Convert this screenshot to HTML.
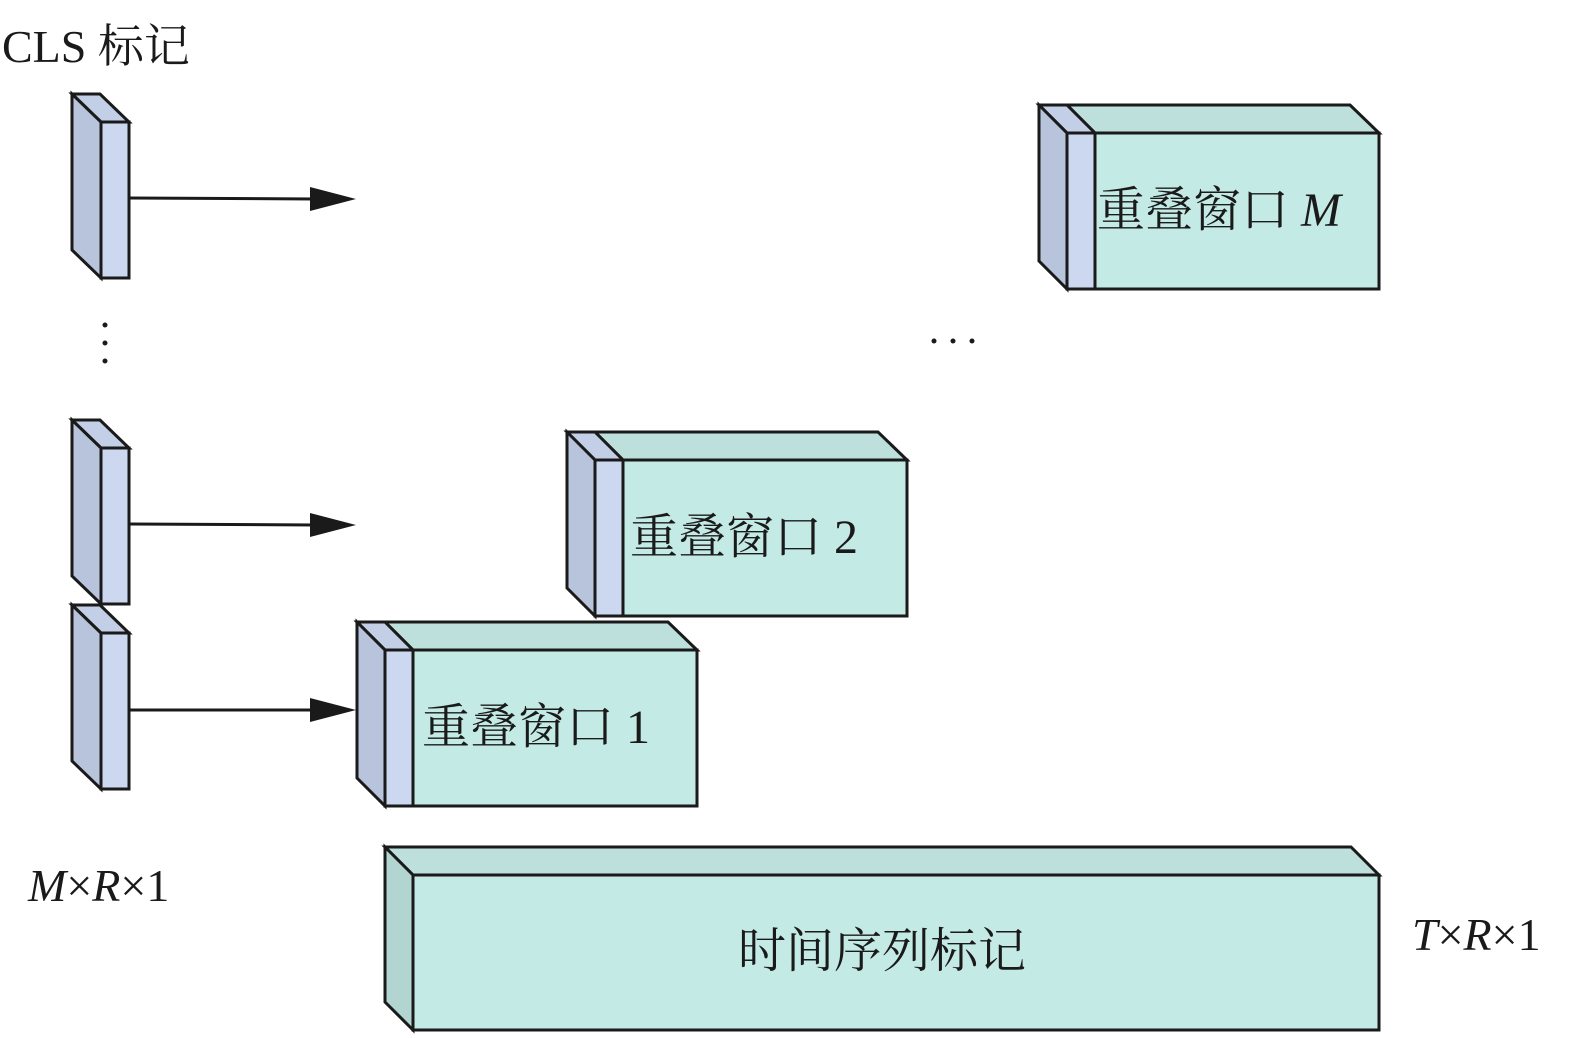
<!DOCTYPE html>
<html><head><meta charset="utf-8"><style>
body{margin:0;background:#fff}
svg{display:block}
text{font-family:"Liberation Serif","Noto Serif CJK SC",serif;fill:#1a1a1a}
</style></head><body>
<svg width="1575" height="1038" viewBox="0 0 1575 1038" xmlns="http://www.w3.org/2000/svg">
<defs>
<g id="tok" stroke="#1a1a1a" stroke-width="3" stroke-linejoin="miter">
<polygon points="0,0 28,0 57,28 29,28" fill="#c3cfe6"/>
<polygon points="0,0 29,28 29,184 0,156" fill="#b8c4dc"/>
<rect x="29" y="28" width="28" height="156" fill="#cbd8ef"/>
</g>
<g id="win" stroke="#1a1a1a" stroke-width="3" stroke-linejoin="miter">
<polygon points="28,0 311,0 340,28 56,28" fill="#bde0dc"/>
<polygon points="0,0 28,0 56,28 28,28" fill="#c3cfe6"/>
<polygon points="0,0 28,28 28,184 0,156" fill="#b8c4dc"/>
<rect x="28" y="28" width="28" height="156" fill="#cbd8ef"/>
<rect x="56" y="28" width="284" height="156" fill="#c4eae6"/>
</g>
</defs>
<text x="2" y="62" font-size="46">CLS 标记</text>
<use href="#tok" x="72" y="94"/>
<use href="#tok" x="72" y="420"/>
<use href="#tok" x="72" y="605"/>
<g stroke="#1a1a1a" stroke-width="3">
<line x1="129" y1="198" x2="315" y2="199"/>
<line x1="129" y1="524" x2="315" y2="525"/>
<line x1="129" y1="710" x2="315" y2="710"/>
</g>
<g fill="#1a1a1a">
<polygon points="310,187 356,199 310,211"/>
<polygon points="310,513 356,525 310,537"/>
<polygon points="310,698 356,710 310,722"/>
<circle cx="105" cy="325" r="2.5"/><circle cx="105" cy="343" r="2.5"/><circle cx="105" cy="361" r="2.5"/>
<circle cx="934" cy="341" r="2.5"/><circle cx="953" cy="341" r="2.5"/><circle cx="972" cy="341" r="2.5"/>
</g>
<use href="#win" x="1039" y="105"/>
<use href="#win" x="567" y="432"/>
<use href="#win" x="357" y="622"/>
<text x="1097" y="226" font-size="48">重叠窗口 <tspan font-style="italic">M</tspan></text>
<text x="630" y="553" font-size="48">重叠窗口 2</text>
<text x="422" y="743" font-size="48">重叠窗口 1</text>
<g stroke="#1a1a1a" stroke-width="3">
<polygon points="385,847 1351,847 1379,875 413,875" fill="#bde0dc"/>
<polygon points="385,847 413,875 413,1030 385,1002" fill="#b3d5d1"/>
<rect x="413" y="875" width="966" height="155" fill="#c4eae6"/>
</g>
<text x="882" y="967" font-size="48" text-anchor="middle">时间序列标记</text>
<text x="28" y="901" font-size="46"><tspan font-style="italic">M</tspan>×<tspan font-style="italic">R</tspan>×1</text>
<text x="1412" y="950" font-size="46"><tspan font-style="italic">T</tspan>×<tspan font-style="italic">R</tspan>×1</text>
</svg>
</body></html>
